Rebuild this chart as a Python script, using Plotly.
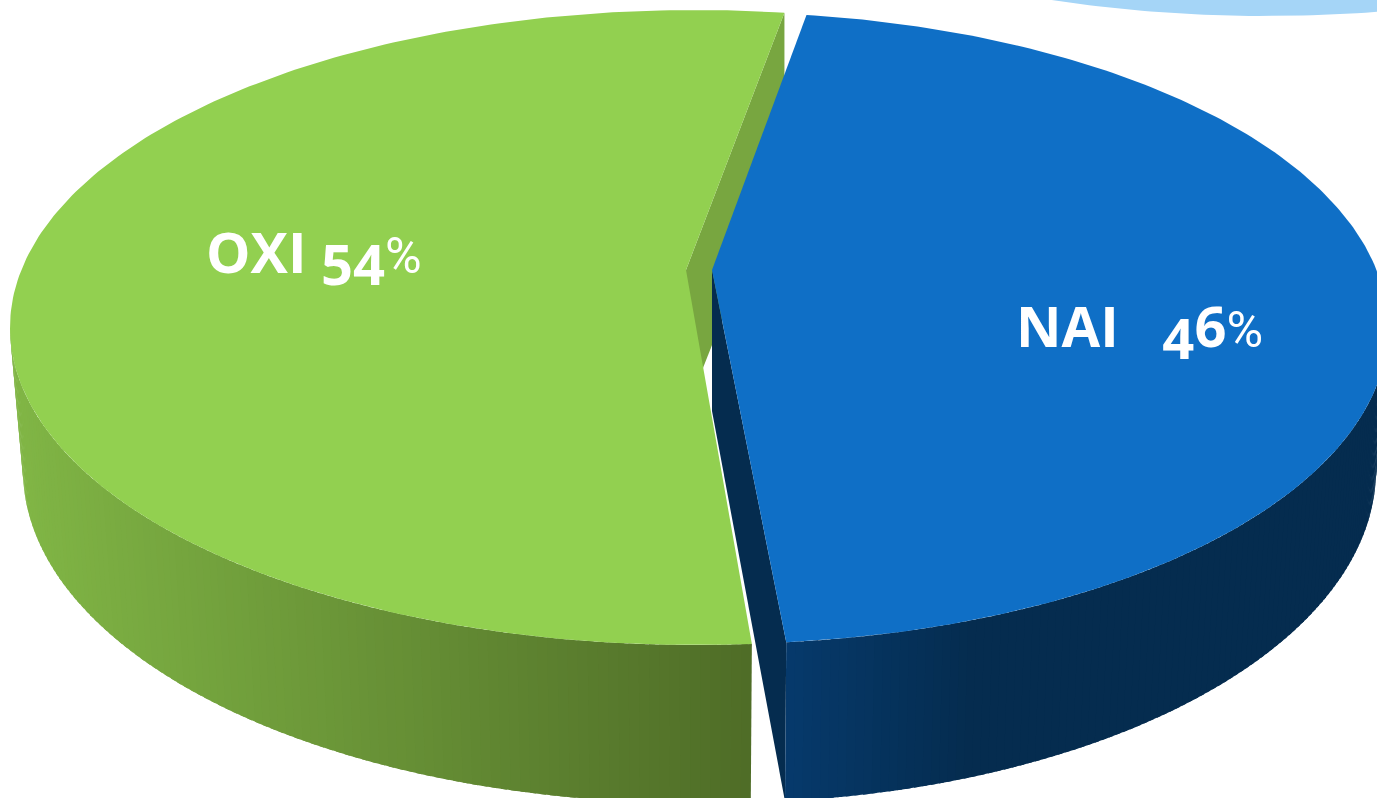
import math
import plotly.graph_objects as go

# --- data ---
CATEGORIES = ["OXI", "NAI"]
SHARES = [54, 46]
PCT = '<span style="font-family:Roboto;font-weight:400;font-size:50px">%</span>'
LABEL_TEXT = [
    'OXI <sub><span style="font-size:56px">54</span></sub>' + PCT,
    'NAI\u00a0\u00a0\u00a0<sub><span style="font-size:56px">4</span></sub>6' + PCT,
]

# --- projection of the tilted disc (styling / geometry only) ---
W, H = 1377, 798
TOP = [dict(cx=695, cy=327.5, rx=685, ry=317.5), dict(cx=716, cy=328, rx=672, ry=316)]
LOW = [dict(cx=695, cy=470, rx=672, ry=333), dict(cx=716, cy=470, rx=660, ry=333)]
APEX = [(686, 270), (712, 270)]
START_DEG = [82.5, -84.0]
SWEEP_SCALE = [0.989, 1.004]
TOP_COL = ["#92d050", "#0f6fc6"]
INNER_COL = ["#78a640", "#052c4f"]
LABEL_POS = [(206, 259), (1016, 333)]


def pt(e, deg):
    a = math.radians(deg)
    return e["cx"] + e["rx"] * math.cos(a), e["cy"] - e["ry"] * math.sin(a)


def arc(e, a0, a1, n=240):
    return [pt(e, a0 + (a1 - a0) * i / n) for i in range(n + 1)]


def mix(c0, c1, f):
    f = max(0.0, min(1.0, f))
    return "rgb(%d,%d,%d)" % tuple(round(a + (b - a) * f) for a, b in zip(c0, c1))


def poly(pts, color, name):
    xs, ys = zip(*pts)
    xs, ys = list(xs) + [xs[0]], list(ys) + [ys[0]]
    return go.Scatter(x=xs, y=ys, mode="lines", fill="toself", fillcolor=color,
                      line=dict(width=0, color=color), hoverinfo="skip",
                      showlegend=False, name=name)


def green_wall(x):
    return mix((128, 181, 69), (79, 109, 39), (x - 20) / 730)


def blue_wall(x):
    return mix((6, 58, 108), (5, 44, 79), (x - 786) / 190)


ends = [START_DEG[i] + 360 * SHARES[i] / 100 * SWEEP_SCALE[i] for i in range(2)]
fig = go.Figure()

# pale disc of the neighbouring chart, top right
fig.add_trace(poly(arc(dict(cx=1267, cy=-300, rx=687, ry=316), 180, 360), "#a5d5f7", "backdrop"))

# inner cut faces
gs = pt(TOP[0], START_DEG[0])
ax, ay = APEX[0]
fig.add_trace(poly([APEX[0], gs, (gs[0], gs[1] + 149), (ax, ay + 141)], INNER_COL[0], CATEGORIES[0] + " cut"))
bx, by = APEX[1]
fig.add_trace(poly([APEX[1], (bx, by + 141), pt(LOW[1], START_DEG[1]), pt(TOP[1], START_DEG[1])],
                   INNER_COL[1], CATEGORIES[1] + " cut"))

# outer wall + top of each slice
walls = [(180.0, ends[0], green_wall), (START_DEG[1], 0.0, blue_wall)]
for i in range(2):
    a0, a1, col = walls[i]
    n = 110
    for k in range(n):
        s = a0 + (a1 - a0) * k / n
        t = a0 + (a1 - a0) * (k + 1) / n
        t2 = min(a1, t + (a1 - a0) / n * 0.6)
        p = [pt(TOP[i], s), pt(TOP[i], t2), pt(LOW[i], t2), pt(LOW[i], s)]
        fig.add_trace(poly(p, col((p[0][0] + p[1][0]) / 2), CATEGORIES[i] + " wall"))
    fig.add_trace(poly([APEX[i]] + arc(TOP[i], START_DEG[i], ends[i]), TOP_COL[i], CATEGORIES[i]))

fig.add_trace(go.Scatter(
    x=[p[0] for p in LABEL_POS], y=[p[1] for p in LABEL_POS], mode="text",
    text=LABEL_TEXT, textposition="middle right", hoverinfo="skip", showlegend=False,
    textfont=dict(family="Open Sans", size=56, color="white", weight=700),
))

fig.update_layout(
    width=W, height=H, autosize=False, margin=dict(l=0, r=0, t=0, b=0, pad=0),
    paper_bgcolor="white", plot_bgcolor="white", showlegend=False,
    xaxis=dict(range=[0, W], visible=False, fixedrange=True),
    yaxis=dict(range=[H, 0], visible=False, fixedrange=True),
)
fig.write_html("out.html", config={"displayModeBar": False},
               post_script="document.body.style.margin='0';document.body.style.overflow='hidden';")
